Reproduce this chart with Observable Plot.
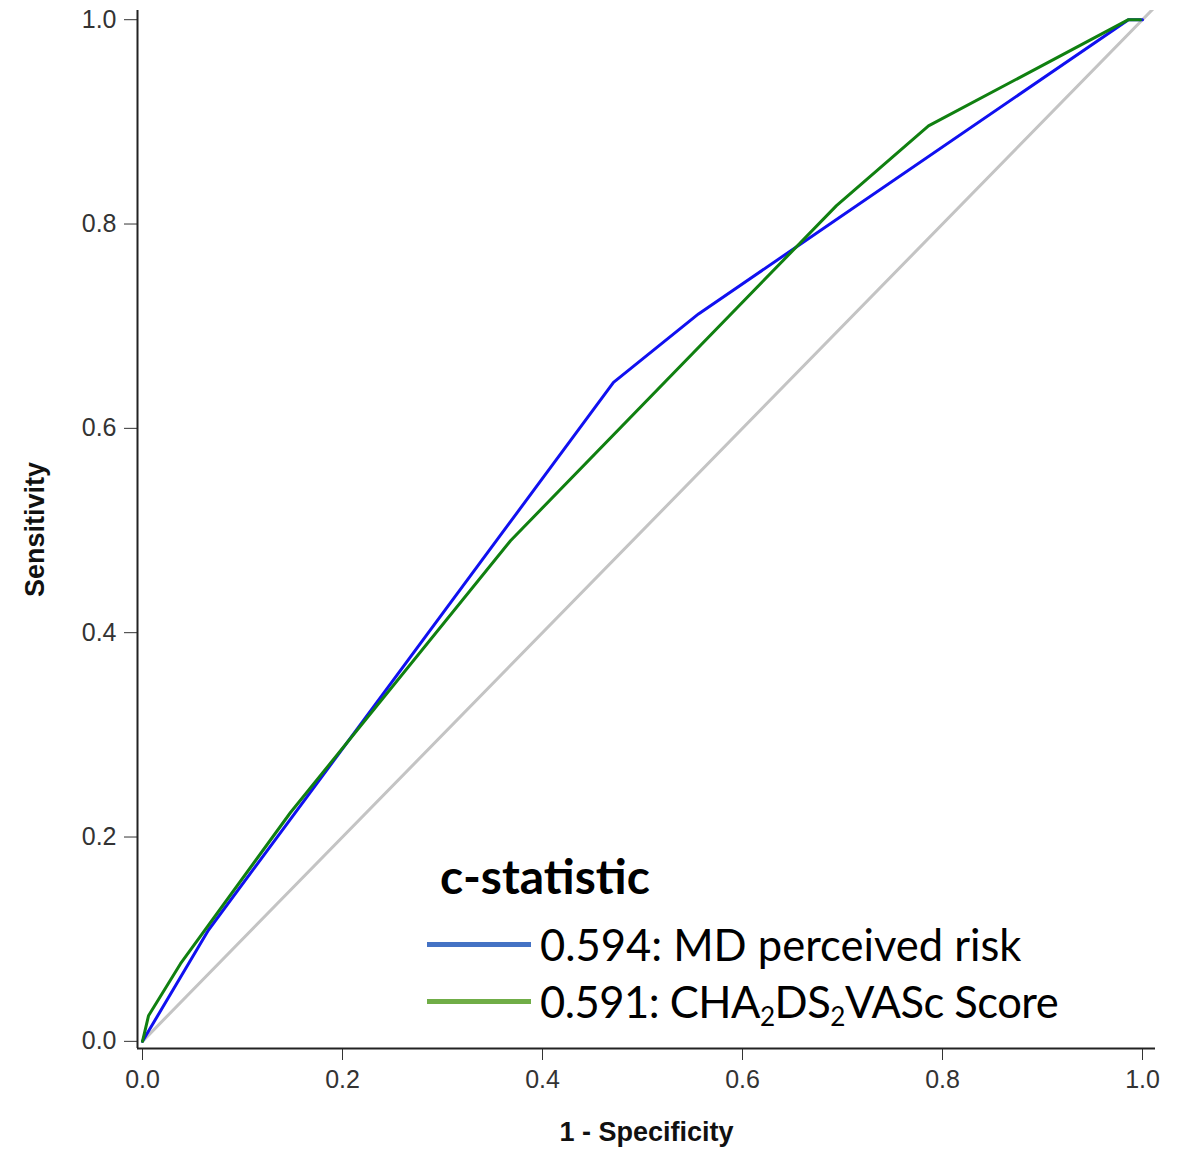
<!DOCTYPE html>
<html>
<head>
<meta charset="utf-8">
<script src="https://cdn.jsdelivr.net/npm/d3@7"></script>
<script src="https://cdn.jsdelivr.net/npm/@observablehq/plot@0.6"></script>
<style>
  body { margin: 0; background: #fff; }
  #wrap { position: relative; width: 1187px; height: 1149px; }
  #legend { position: absolute; left: 0; top: 0; font-family: Lato, "Noto Sans", sans-serif; color: #000; }
  .ltitle { position: absolute; left: 440px; top: 852px; font-weight: 700; font-size: 48px; line-height: 1; white-space: nowrap; }
  .lrow { position: absolute; left: 427px; white-space: nowrap; font-size: 43.5px; line-height: 1; display: flex; align-items: center; }
  .lrow.r1 .lab { letter-spacing: -0.5px; }
  .sw { display: inline-block; width: 104px; height: 5px; margin-right: 9px; }
  sub { font-size: 0.6em; vertical-align: -0.3em; line-height: 0; }
</style>
</head>
<body>
<div id="wrap"></div>
<script>
// ROC curve for MD perceived risk
const mdFpr = [0, 0.066, 0.471, 0.556, 0.986, 1.0];
const mdTpr = [0, 0.109, 0.645, 0.712, 1.0, 1.0];
// ROC curve for CHA2DS2VASc score
const chaFpr = [0, 0.006, 0.038, 0.148, 0.368, 0.694, 0.786, 0.986, 0.998];
const chaTpr = [0, 0.025, 0.076, 0.224, 0.490, 0.818, 0.896, 1.0, 1.0];
// chance diagonal
const diagonal = [0, 1.012];
const ticks = [0, 0.2, 0.4, 0.6, 0.8, 1.0];
const seriesLabels = ["0.594: MD perceived risk", "0.591: CHA<sub>2</sub>DS<sub>2</sub>VASc Score"];
const lineColors = ["#1010f0", "#108010"];
const legendColors = ["#4472C4", "#70AD47"];

const md = mdFpr.map((x, i) => ({x, y: mdTpr[i]}));
const cha = chaFpr.map((x, i) => ({x, y: chaTpr[i]}));
const diag = diagonal.map(v => ({x: v, y: v}));

const axisFont = '"Liberation Sans Narrow", "Arial Narrow", "Liberation Sans", Arial, sans-serif';

const chart = Plot.plot({
  width: 1187,
  height: 1149,
  marginLeft: 137,
  marginRight: 32,
  marginTop: 10,
  marginBottom: 101,
  style: {fontFamily: axisFont, fontSize: "25px", color: "#333", background: "#fff"},
  x: {domain: [-0.005, 1.013], ticks: ticks, tickFormat: d3.format(".1f")},
  y: {domain: [-0.007, 1.009], ticks: ticks, tickFormat: d3.format(".1f")},
  marks: [
    Plot.line(diag, {x: "x", y: "y", stroke: "#c4c4c4", strokeWidth: 3, clip: true}),
    Plot.line(md, {x: "x", y: "y", stroke: lineColors[0], strokeWidth: 3}),
    Plot.line(cha, {x: "x", y: "y", stroke: lineColors[1], strokeWidth: 3}),
    Plot.axisX({ticks, tickFormat: d3.format(".1f"), tickSize: 12, tickPadding: 10, stroke: "#333", label: null}),
    Plot.axisY({ticks, tickFormat: d3.format(".1f"), tickSize: 13, tickPadding: 8, stroke: "#333", label: null}),
    Plot.ruleX([-0.005], {stroke: "#222", strokeWidth: 2}),
    Plot.ruleY([-0.007], {stroke: "#222", strokeWidth: 2}),
    Plot.text(["1 - Specificity"], {frameAnchor: "bottom", dy: 92, fontWeight: "bold", fontSize: 27, fill: "#111", fontFamily: axisFont}),
    Plot.text(["Sensitivity"], {frameAnchor: "left", dx: -102, rotate: -90, textAnchor: "middle", fontWeight: "bold", fontSize: 27, fill: "#111", fontFamily: axisFont})
  ]
});

const wrap = document.getElementById("wrap");
wrap.appendChild(chart);

const legend = document.createElement("div");
legend.id = "legend";
let html = `<div class="ltitle">c-statistic</div>`;
const rowTops = [923, 980];
seriesLabels.forEach((lab, i) => {
  html += `<div class="lrow r${i}" style="top:${rowTops[i]}px"><span class="sw" style="background:${legendColors[i]}"></span><span class="lab">${lab}</span></div>`;
});
legend.innerHTML = html;
wrap.appendChild(legend);
</script>
</body>
</html>
